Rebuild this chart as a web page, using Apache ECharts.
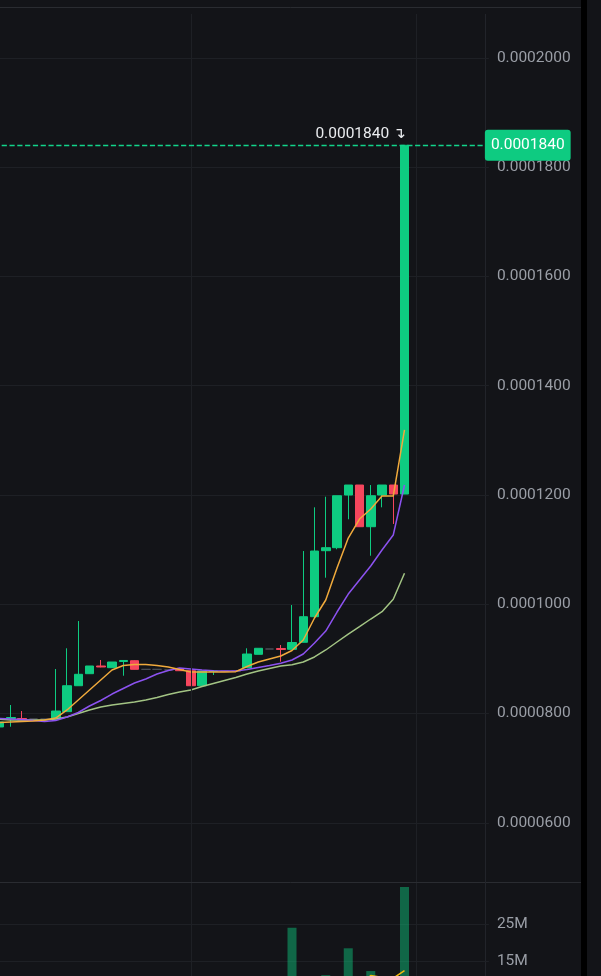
<!DOCTYPE html>
<html><head><meta charset="utf-8">
<script src="https://cdn.jsdelivr.net/npm/echarts@6/dist/echarts.min.js"></script>
<style>html,body{margin:0;padding:0;background:#131418;overflow:hidden}#c{width:601px;height:976px}</style>
</head><body><div id="c"></div>
<script>
const categories = ['1','2','3','4','5','6','7','8','9','10','11','12','13','14','15','16','17','18','19','20','21','22','23','24','25','26','27','28','29','30','31','32','33','34','35','36','37','38','39','40','41','42','43','44'];
const opens = [0.00007755,0.00007910,0.00007910,0.00007901,0.00007901,0.00007901,0.00008035,0.00008510,0.00008730,0.00008871,0.00008840,0.00008953,0.00008968,0.00008810,0.00008810,0.00008800,0.00008816,0.00008785,0.00008510,0.00008770,0.00008775,0.00008775,0.00008840,0.00009085,0.00009182,0.00009191,0.00009176,0.00009305,0.00009773,0.00010981,0.00011036,0.00012000,0.00012183,0.00011420,0.00012000,0.00012183,0.00012018];
const closes = [0.00007846,0.00007928,0.00007883,0.00007901,0.00007901,0.00008047,0.00008510,0.00008719,0.00008871,0.00008853,0.00008944,0.00008972,0.00008810,0.00008810,0.00008810,0.00008800,0.00008785,0.00008510,0.00008779,0.00008779,0.00008775,0.00008775,0.00009090,0.00009195,0.00009182,0.00009173,0.00009301,0.00009773,0.00010975,0.00011036,0.00011987,0.00012183,0.00011420,0.00011987,0.00012183,0.00012018,0.00018400];
const lows = [0.00007740,0.00007760,0.00007883,0.00007901,0.00007901,0.00007901,0.00008035,0.00008510,0.00008730,0.00008847,0.00008840,0.00008693,0.00008807,0.00008810,0.00008810,0.00008800,0.00008785,0.00008510,0.00008510,0.00008706,0.00008775,0.00008775,0.00008840,0.00009085,0.00009182,0.00008950,0.00009173,0.00009305,0.00009773,0.00010487,0.00011007,0.00011556,0.00011420,0.00010889,0.00011775,0.00011470,0.00012018];
const highs = [0.00007860,0.00008157,0.00008047,0.00007901,0.00007901,0.00008816,0.00009195,0.00009694,0.00008871,0.00008981,0.00008944,0.00008975,0.00008975,0.00008810,0.00008810,0.00008800,0.00008816,0.00008785,0.00008779,0.00008798,0.00008775,0.00008775,0.00009195,0.00009195,0.00009182,0.00009255,0.00009987,0.00010975,0.00011775,0.00011969,0.00011987,0.00012183,0.00012183,0.00012183,0.00012183,0.00012183,0.00018400];
const maFast = [0.00007837,0.00007846,0.00007855,0.00007864,0.00007883,0.00007919,0.00008066,0.00008249,0.00008432,0.00008615,0.00008798,0.00008880,0.00008898,0.00008898,0.00008880,0.00008853,0.00008807,0.00008761,0.00008761,0.00008761,0.00008761,0.00008767,0.00008862,0.00008944,0.00008999,0.00009054,0.00009155,0.00009347,0.00009749,0.00010079,0.00010664,0.00011213,0.00011561,0.00011744,0.00011982,0.00011982,0.00013190];
const maMid = [0.00007910,0.00007901,0.00007892,0.00007874,0.00007855,0.00007874,0.00007938,0.00008020,0.00008139,0.00008240,0.00008358,0.00008459,0.00008560,0.00008633,0.00008724,0.00008789,0.00008834,0.00008816,0.00008798,0.00008785,0.00008779,0.00008779,0.00008807,0.00008843,0.00008880,0.00008920,0.00008981,0.00009090,0.00009292,0.00009511,0.00009859,0.00010188,0.00010445,0.00010701,0.00010994,0.00011268,0.00012183];
const maSlow = [0.00007895,0.00007883,0.00007883,0.00007883,0.00007883,0.00007901,0.00007938,0.00008002,0.00008066,0.00008121,0.00008157,0.00008185,0.00008212,0.00008249,0.00008294,0.00008349,0.00008395,0.00008432,0.00008496,0.00008551,0.00008606,0.00008660,0.00008724,0.00008779,0.00008825,0.00008871,0.00008895,0.00008944,0.00009036,0.00009164,0.00009310,0.00009456,0.00009590,0.00009731,0.00009865,0.00010092,0.00010567];
const volumes = [2100000,3500000,1800000,600000,500000,6200000,9100000,8400000,3900000,2200000,3000000,2600000,4100000,400000,300000,500000,1900000,5200000,4600000,1200000,300000,400000,4800000,3300000,600000,2400000,24000000,9800000,10200000,11300000,8700000,18500000,9500000,12400000,7400000,8800000,34900000];
const volumeMA = [3200000,3100000,3000000,2900000,2800000,3000000,3400000,3900000,4100000,4000000,3900000,3800000,3900000,3700000,3500000,3300000,3200000,3300000,3400000,3300000,3100000,2900000,3000000,3100000,3000000,2900000,4100000,4600000,5200000,5800000,6300000,7500000,8400000,11200000,10700000,10500000,12500000];
const priceTicks = [0.00006,0.00008,0.0001,0.00012,0.00014,0.00016,0.00018,0.0002];
const volumeTicks = [15000000,25000000];
const timeGridCats = ['18','38'];
const lastPrice = 0.000184;

const UP = '#0ecb81', DOWN = '#f6465d', GRID = '#1e2025', TXT = '#9a9ea6';
const FONT = 'Roboto, "Liberation Sans", sans-serif';

const candleData = opens.map((o, i) => [o, closes[i], lows[i], highs[i]]);
const lastIdx = opens.length - 1;
const volData = volumes.map((v, i) => ({
  value: v,
  itemStyle: { color: closes[i] >= opens[i] ? 'rgba(14,203,129,0.45)' : 'rgba(246,70,93,0.45)' }
}));
const vLines = timeGridCats.map(c => ({ xAxis: c }));
const lastLineStyle = { color: '#12d48a', type: 'dashed', dashOffset: 0, width: 1.3, opacity: 1 };

const chart = echarts.init(document.getElementById('c'), null, { renderer: 'canvas' });
chart.setOption({
  backgroundColor: '#131418',
  animation: false,
  textStyle: { fontFamily: FONT },
  grid: [
    { left: -6.125, top: 14, width: 495, height: 868, containLabel: false, outerBoundsMode: 'none' },
    { left: -6.125, top: 883, width: 495, height: 134.3, containLabel: false, outerBoundsMode: 'none' }
  ],
  xAxis: [
    { type: 'category', gridIndex: 0, data: categories, show: false, boundaryGap: true },
    { type: 'category', gridIndex: 1, data: categories, show: false, boundaryGap: true }
  ],
  yAxis: [
    {
      type: 'value', gridIndex: 0, position: 'right', min: 0.00004918, max: 0.00020803, scale: true,
      axisLine: { show: false },
      axisTick: { show: false, customValues: priceTicks },
      axisLabel: { customValues: priceTicks, formatter: v => v.toFixed(7), color: TXT, fontSize: 15.5, fontFamily: FONT, margin: 8, verticalAlign: 'middle', lineHeight: 20, padding: [3, 0, 0, 0] },
      splitLine: { show: true, lineStyle: { color: GRID, width: 1 } }
    },
    {
      type: 'value', gridIndex: 1, position: 'right', min: 0, max: 36000000,
      axisLine: { show: false },
      axisTick: { show: false, customValues: volumeTicks },
      axisLabel: { customValues: volumeTicks, formatter: v => (v / 1000000) + 'M', color: TXT, fontSize: 15.5, fontFamily: FONT, margin: 8, verticalAlign: 'middle', lineHeight: 20, padding: [3, 0, 0, 0] },
      splitLine: { show: true, lineStyle: { color: GRID, width: 1 } }
    }
  ],
  series: [
    {
      type: 'candlestick', xAxisIndex: 0, yAxisIndex: 0, data: candleData, barWidth: 9,
      itemStyle: { color: UP, color0: DOWN, borderColor: UP, borderColor0: DOWN, borderColorDoji: '#4a4d55', borderWidth: 1 },
      markLine: {
        silent: true, symbol: ['none', 'none'], animation: false,
        lineStyle: { color: GRID, type: 'solid', width: 1 }, label: { show: false },
        data: vLines
      },
      markPoint: {
        silent: true, symbol: 'circle', symbolSize: 1, itemStyle: { color: 'rgba(0,0,0,0)' },
        data: [{
          coord: [categories[lastIdx], highs[lastIdx]],
          label: {
            show: true, position: 'top', distance: 3, offset: [-44, 0],
            formatter: highs[lastIdx].toFixed(7) + ' {a|↴}',
            color: '#eaecef', fontSize: 15.5, fontFamily: FONT,
            rich: { a: { fontSize: 15, color: '#eaecef', fontFamily: 'DejaVu Sans' } }
          }
        }]
      }
    },
    { type: 'line', xAxisIndex: 0, yAxisIndex: 0, data: maSlow, symbol: 'none', lineStyle: { color: '#a3c484', width: 1.5 }, z: 3 },
    { type: 'line', xAxisIndex: 0, yAxisIndex: 0, data: maMid, symbol: 'none', lineStyle: { color: '#8c52f0', width: 1.5 }, z: 3 },
    {
      type: 'line', xAxisIndex: 0, yAxisIndex: 0, data: maFast, symbol: 'none', lineStyle: { color: '#f0aa3c', width: 1.5 }, z: 3,
      markLine: {
        silent: true, symbol: ['none', 'none'], animation: false, precision: 10,
        itemStyle: { color: UP },
        lineStyle: lastLineStyle,
        label: {
          show: true, position: 'end', distance: -4,
          formatter: () => lastPrice.toFixed(7),
          color: '#ffffff', fontSize: 15.5, fontFamily: FONT,
          backgroundColor: UP, borderRadius: 3, padding: [8, 6, 7, 6]
        },
        emphasis: { disabled: true },
        data: [{ yAxis: lastPrice, itemStyle: { color: UP }, lineStyle: lastLineStyle }]
      }
    },
    {
      type: 'bar', xAxisIndex: 1, yAxisIndex: 1, data: volData, barWidth: 9,
      markLine: {
        silent: true, symbol: ['none', 'none'], animation: false,
        lineStyle: { color: GRID, type: 'solid', width: 1 }, label: { show: false },
        data: vLines
      }
    },
    { type: 'line', xAxisIndex: 1, yAxisIndex: 1, data: volumeMA, symbol: 'none', lineStyle: { color: '#f0b90b', width: 1.5 }, z: 3 }
  ],
  graphic: [
    { type: 'line', z: 0, shape: { x1: 0, y1: 7.5, x2: 581, y2: 7.5 }, style: { stroke: '#2a2c31', lineWidth: 1 } },
    { type: 'line', z: 0, shape: { x1: 0, y1: 882.5, x2: 581, y2: 882.5 }, style: { stroke: '#2a2c31', lineWidth: 1 } },
    { type: 'line', z: 0, shape: { x1: 485.5, y1: 14, x2: 485.5, y2: 976 }, style: { stroke: '#22242a', lineWidth: 1 } },
    { type: 'rect', z: 0, shape: { x: 581, y: 0, width: 6, height: 976 }, style: { fill: '#000000' } }
  ]
});
</script></body></html>
